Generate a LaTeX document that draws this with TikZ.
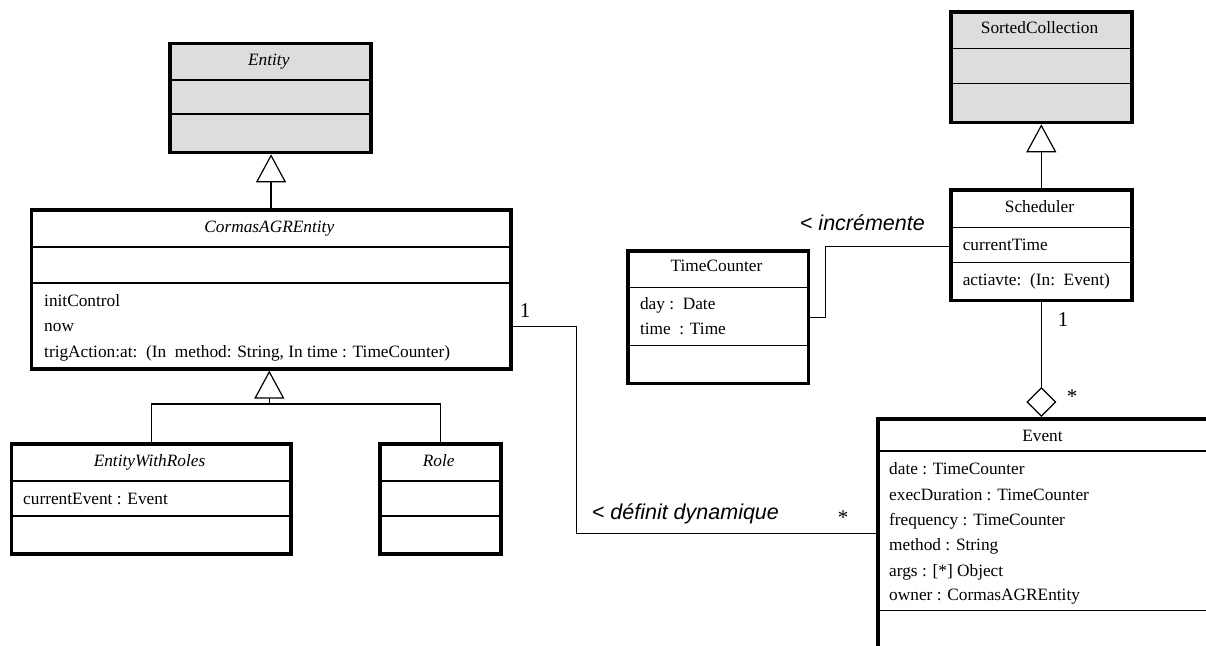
\documentclass[tikz,border=0pt]{standalone}
\usepackage{fontspec}
\setmainfont{Liberation Serif}
\newfontfamily\assocfont{Liberation Sans}
\usetikzlibrary{arrows.meta}
\definecolor{abstractfill}{HTML}{DDDDDD}
\tikzset{
  classbox/.style={draw, line width=3.6pt, inner sep=0pt, anchor=north west, fill=white},
  sepline/.style={line width=1.3pt},
  conn/.style={line width=1.2pt},
  gen/.style={conn, -{Triangle[open, length=28pt, width=30pt]}},
  agg/.style={conn, -{Diamond[open, length=30pt, width=30pt]}},
  member/.style={inner sep=0pt, font=\fontsize{17.3}{20}\selectfont, anchor=base west},
  title/.style={inner sep=0pt, font=\fontsize{17.3}{20}\selectfont, anchor=base},
  abstitle/.style={title, font=\fontsize{17.3}{20}\selectfont\itshape},
  mult/.style={inner sep=0pt, font=\fontsize{21}{24}\selectfont},
  assoclabel/.style={inner sep=0pt, font=\assocfont\itshape\fontsize{21.5}{24}\selectfont},
}
\begin{document}
\begin{tikzpicture}[x=1pt,y=-1pt]
\useasboundingbox (0,0) rectangle (1206,645);
\clip (0,0) rectangle (1206,645);

% ---- Entity (abstract) ----
\node[classbox, fill=abstractfill, minimum width=200.9pt, minimum height=109pt] (entity) at (168.4,41.7) {};
\draw[sepline] (168.4,80) -- (369.3,80);
\draw[sepline] (168.4,114) -- (369.3,114);
\node[abstitle] (entity-name) at (268.8,65.5) {Entity};

% ---- CormasAGREntity ----
\node[classbox, minimum width=479.5pt, minimum height=159pt] (cormas) at (29.5,208) {};
\draw[sepline] (29.5,247) -- (509,247);
\draw[sepline] (29.5,283) -- (509,283);
\node[abstitle] (cormas-name) at (269.3,232.5) {CormasAGREntity};
\node[member] (cormas-op1) at (44,306) {initControl};
\node[member] (cormas-op2) at (44,331.5) {now};
\node[member] (cormas-op3) at (44,357) {trigAction:at:\ \ (In\ \ method: String, In time : TimeCounter)};

% ---- EntityWithRoles ----
\node[classbox, minimum width=279.7pt, minimum height=110pt] (ewr) at (9.6,442) {};
\draw[sepline] (9.6,481) -- (289.3,481);
\draw[sepline] (9.6,516) -- (289.3,516);
\node[abstitle] (ewr-name) at (149.5,466) {EntityWithRoles};
\node[member] (ewr-a1) at (23,504) {currentEvent : Event};

% ---- Role ----
\node[classbox, minimum width=121.4pt, minimum height=110pt] (role) at (378,442) {};
\draw[sepline] (378,481) -- (499.4,481);
\draw[sepline] (378,516) -- (499.4,516);
\node[abstitle] (role-name) at (438.7,466) {Role};

% ---- SortedCollection ----
\node[classbox, fill=abstractfill, minimum width=181pt, minimum height=110.7pt] (sortc) at (949,10) {};
\draw[sepline] (949,48.3) -- (1130,48.3);
\draw[sepline] (949,83.3) -- (1130,83.3);
\node[title] (sortc-name) at (1039.5,33) {SortedCollection};

% ---- Scheduler ----
\node[classbox, minimum width=181pt, minimum height=110.2pt] (sched) at (949,188.3) {};
\draw[sepline] (949,227.7) -- (1130,227.7);
\draw[sepline] (949,262.7) -- (1130,262.7);
\node[title] (sched-name) at (1039.5,212.7) {Scheduler};
\node[member] (sched-a1) at (962.6,250.7) {currentTime};
\node[member] (sched-op1) at (962.6,285.7) {actiavte:\ \ (In:\ \ Event)};

% ---- TimeCounter ----
\node[classbox, minimum width=180.5pt, minimum height=132.4pt] (tc) at (626.3,249.3) {};
\draw[sepline] (626.3,287.3) -- (806.8,287.3);
\draw[sepline] (626.3,345.7) -- (806.8,345.7);
\node[title] (tc-name) at (716.5,271.7) {TimeCounter};
\node[member] (tc-a1) at (639.8,309.3) {day :\ \ Date};
\node[member] (tc-a2) at (639.8,334.5) {time\ \ : Time};

% ---- Event ----
\node[classbox, minimum width=333pt, minimum height=229pt] (event) at (876,417) {};
\draw[sepline] (876,451) -- (1209,451);
\draw[sepline] (876,610.7) -- (1209,610.7);
\node[title] (event-name) at (1042.5,441) {Event};
\node[member] (event-a1) at (889,474.3) {date : TimeCounter};
\node[member] (event-a2) at (889,500) {execDuration : TimeCounter};
\node[member] (event-a3) at (889,525) {frequency : TimeCounter};
\node[member] (event-a4) at (889,550) {method : String};
\node[member] (event-a5) at (889,576) {args : [*] Object};
\node[member] (event-a6) at (889,600.7) {owner : CormasAGREntity};

% ---- Generalizations ----
\draw[gen] (cormas.north) -- (cormas.north |- entity.south);
\coordinate (genjoin) at (269.3,404);
\draw[conn] (ewr.north) |- (genjoin) -| (role.north);
\draw[gen] (genjoin) -- (genjoin |- cormas.south);
\draw[gen] (sched.north) -- (sortc.south);

% ---- Aggregation Scheduler <>-- Event ----
\draw[agg] (sched.south) -- (sched.south |- event.north);
\node[mult] (sched-mult) at (1063,320) {1};
\node[mult] (event-mult-agg) at (1072,397) {*};

% ---- Associations ----
\draw[conn] ([yshift=-36.8pt]cormas.east) -- ++(63.7,0) |- (event.west);
\node[mult] (cormas-mult) at (525,311) {1};
\node[mult] (event-mult) at (843,518) {*};
\node[assoclabel] (defdyn) at (685.4,514) {< définit dynamique};

\draw[conn] ([yshift=-1.3pt]sched.west) -- ++(-123.3,0) |- (tc.east);
\node[assoclabel] (incr) at (862.4,223) {< incrémente};
\end{tikzpicture}
\end{document}
